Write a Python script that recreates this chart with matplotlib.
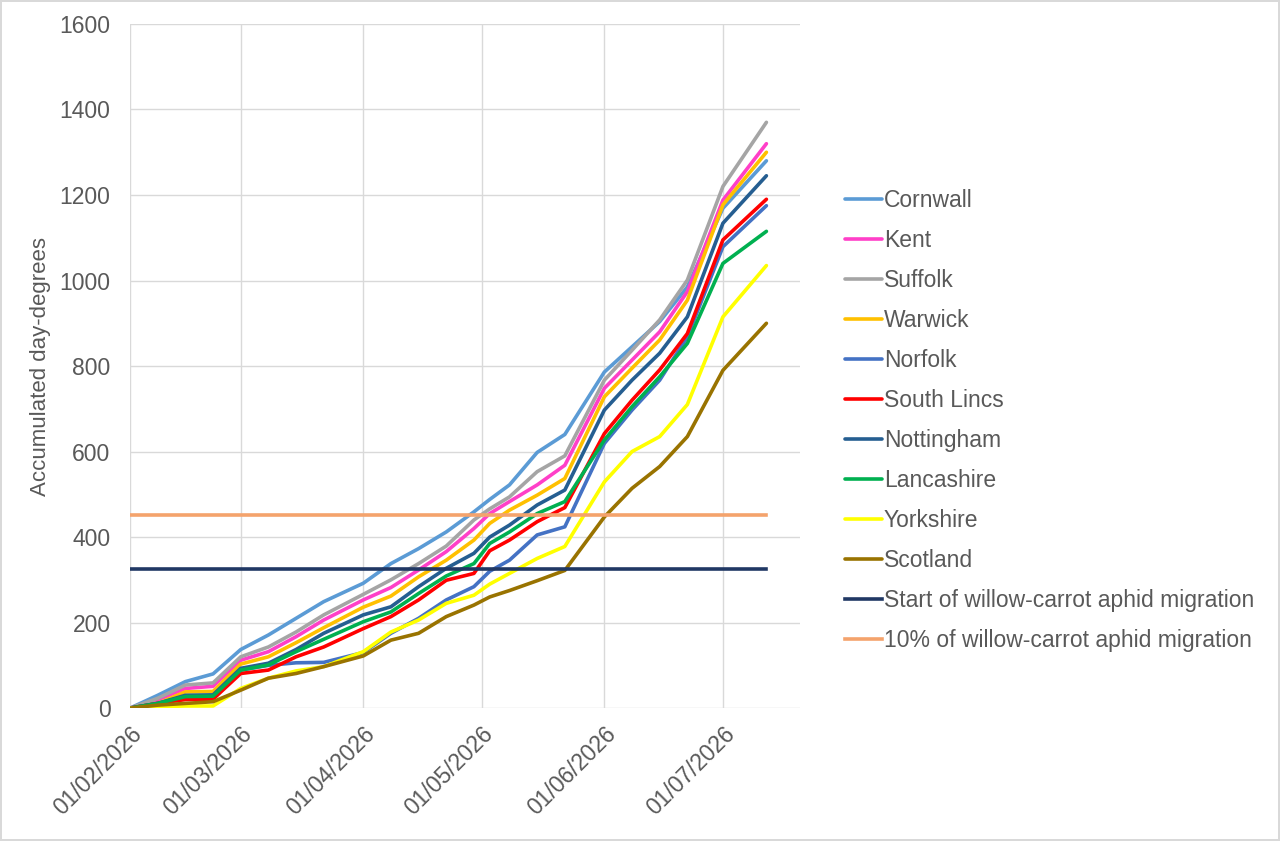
import numpy as np
import pandas as pd
import matplotlib
matplotlib.use("Agg")
import matplotlib.pyplot as plt
import matplotlib.dates as mdates

plt.rcParams['font.family'] = ['Liberation Sans', 'DejaVu Sans']

dates = pd.to_datetime([
    "2026-02-01", "2026-02-08", "2026-02-15", "2026-02-22", "2026-03-01",
    "2026-03-08", "2026-03-15", "2026-03-22", "2026-04-01", "2026-04-08",
    "2026-04-15", "2026-04-22", "2026-04-29", "2026-05-03", "2026-05-08",
    "2026-05-15", "2026-05-22", "2026-06-01", "2026-06-08", "2026-06-15",
    "2026-06-22", "2026-07-01", "2026-07-12"])

# accumulated day-degrees per site
cornwall = [0, 30, 62, 80, 137, 171, 210, 249, 292, 338, 373, 412, 459, 488,
            522, 598, 640, 786, 845, 904, 985, 1169, 1280]
kent = [0, 19, 46, 51, 112, 132, 167, 206, 253, 282, 323, 366, 420, 455,
        483, 522, 568, 748, 814, 880, 974, 1188, 1320]
suffolk = [0, 23, 54, 59, 120, 143, 178, 218, 266, 300, 338, 379, 440, 466,
           494, 553, 590, 767, 837, 908, 1001, 1220, 1370]
warwick = [0, 11, 38, 39, 103, 120, 153, 188, 236, 262, 307, 346, 393, 432,
           463, 498, 537, 728, 795, 861, 954, 1177, 1300]
norfolk = [0, 11, 27, 28, 89, 100, 106, 107, 130, 175, 210, 253, 284, 320,
           346, 405, 424, 619, 697, 767, 868, 1079, 1175]
south_lincs = [0, 11, 20, 21, 81, 89, 120, 143, 186, 214, 253, 299, 315, 368,
               393, 436, 469, 642, 720, 791, 876, 1095, 1190]
nottingham = [0, 11, 30, 31, 93, 105, 137, 175, 218, 237, 284, 327, 362, 400,
              428, 475, 510, 697, 767, 830, 915, 1134, 1245]
lancashire = [0, 11, 27, 28, 89, 101, 132, 161, 202, 225, 268, 309, 338, 385,
              412, 455, 483, 627, 705, 775, 853, 1040, 1115]
yorkshire = [0, 3, 5, 5, 46, 70, 87, 97, 132, 178, 206, 245, 264, 290,
             315, 350, 378, 529, 600, 635, 710, 915, 1035]
scotland = [0, 7, 11, 15, 42, 70, 81, 97, 122, 159, 175, 214, 241, 260,
            275, 298, 322, 447, 514, 565, 635, 790, 900]

start_migration = 325
ten_pct_migration = 451

series = [
    ("Cornwall", cornwall, "#5B9BD5"),
    ("Kent", kent, "#FF3FC8"),
    ("Suffolk", suffolk, "#A5A5A5"),
    ("Warwick", warwick, "#FFC000"),
    ("Norfolk", norfolk, "#4472C4"),
    ("South Lincs", south_lincs, "#FF0000"),
    ("Nottingham", nottingham, "#255E91"),
    ("Lancashire", lancashire, "#00B050"),
    ("Yorkshire", yorkshire, "#FFFF00"),
    ("Scotland", scotland, "#997300"),
]

fig = plt.figure(figsize=(12.8, 8.41), dpi=100)
fig.patch.set_edgecolor("#D9D9D9")
fig.patch.set_linewidth(1.5)
ax = fig.add_axes([0.1016, 0.158, 0.5234, 0.8135])

for name, vals, col in series:
    ax.plot(dates, vals, color=col, lw=2.6, label=name, solid_capstyle='round')

# threshold lines
ax.plot([dates[0], dates[-1]], [start_migration] * 2, color="#203864", lw=2.6,
        label="Start of willow-carrot aphid migration")
ax.plot([dates[0], dates[-1]], [ten_pct_migration] * 2, color="#F4A36C", lw=2.6,
        label="10% of willow-carrot aphid migration")

ax.set_xlim(pd.Timestamp("2026-02-01"), pd.Timestamp("2026-07-20 12:00"))
ax.set_ylim(0, 1600)
ax.set_yticks(range(0, 1601, 200))
ax.xaxis.set_major_locator(mdates.MonthLocator())
ax.xaxis.set_major_formatter(mdates.DateFormatter("%d/%m/%Y"))

ax.grid(True, color="#D9D9D9", lw=1)
ax.set_axisbelow(True)
for s in ax.spines.values():
    s.set_visible(False)
ax.tick_params(axis="y", length=0, labelsize=16.5, colors="#595959", pad=14)
ax.tick_params(axis="x", length=0, labelsize=16.5, colors="#595959", pad=10)
plt.setp(ax.get_xticklabels(), rotation=45, ha="right", rotation_mode="anchor")

ax.set_ylabel("Accumulated day-degrees", fontsize=16, color="#595959", labelpad=6)

ax.legend(loc="upper left", bbox_to_anchor=(0.653, 0.786), bbox_transform=fig.transFigure,
          frameon=False, fontsize=16.5, labelcolor="#595959", handlelength=1.6,
          handletextpad=0.1, labelspacing=0.74, borderaxespad=0)

fig.savefig("out.png", dpi=100)
